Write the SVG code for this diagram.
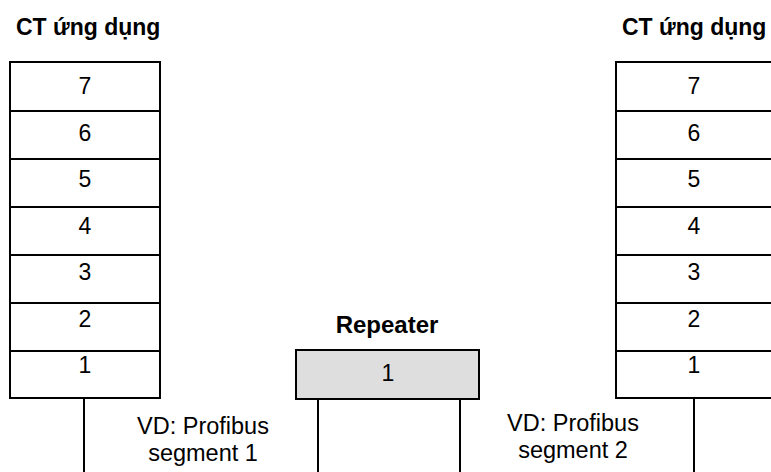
<svg xmlns="http://www.w3.org/2000/svg" width="771" height="472" viewBox="0 0 771 472">
<style>
.box{fill:#ffffff;stroke:#000;stroke-width:2}
.rep{fill:#dedede;stroke:#000;stroke-width:2}
.sep{stroke:#000;stroke-width:2}
.wire{stroke:#000;stroke-width:2;fill:none}
.num{font-family:"Liberation Sans",Arial,sans-serif;font-size:23px;text-anchor:middle;fill:#000}
.title{font-family:"Liberation Sans",Arial,sans-serif;font-size:23px;font-weight:bold;fill:#000}
.rt{font-family:"Liberation Sans",Arial,sans-serif;font-size:24px;font-weight:bold;fill:#000;text-anchor:middle}
.lbl{font-family:"Liberation Sans",Arial,sans-serif;font-size:23.5px;text-anchor:middle;fill:#000}
</style>
<rect width="771" height="472" fill="#ffffff"/>
<g id="stack-left">
<text class="title" x="16" y="35">CT ứng dụng</text>
<rect class="box" x="10" y="62" width="150" height="336"/>
<line class="sep" x1="10" y1="111" x2="160" y2="111"/>
<line class="sep" x1="10" y1="159" x2="160" y2="159"/>
<line class="sep" x1="10" y1="207" x2="160" y2="207"/>
<line class="sep" x1="10" y1="255" x2="160" y2="255"/>
<line class="sep" x1="10" y1="303" x2="160" y2="303"/>
<line class="sep" x1="10" y1="351" x2="160" y2="351"/>
<text class="num" x="85" y="94">7</text>
<text class="num" x="85" y="140.5">6</text>
<text class="num" x="85" y="187">5</text>
<text class="num" x="85" y="233.5">4</text>
<text class="num" x="85" y="280">3</text>
<text class="num" x="85" y="326.5">2</text>
<text class="num" x="85" y="373">1</text>
</g>
<g id="stack-right">
<text class="title" x="622" y="35">CT ứng dụng</text>
<rect class="box" x="616" y="62" width="160" height="336"/>
<line class="sep" x1="616" y1="111" x2="776" y2="111"/>
<line class="sep" x1="616" y1="159" x2="776" y2="159"/>
<line class="sep" x1="616" y1="207" x2="776" y2="207"/>
<line class="sep" x1="616" y1="255" x2="776" y2="255"/>
<line class="sep" x1="616" y1="303" x2="776" y2="303"/>
<line class="sep" x1="616" y1="351" x2="776" y2="351"/>
<text class="num" x="694" y="94">7</text>
<text class="num" x="694" y="140.5">6</text>
<text class="num" x="694" y="187">5</text>
<text class="num" x="694" y="233.5">4</text>
<text class="num" x="694" y="280">3</text>
<text class="num" x="694" y="326.5">2</text>
<text class="num" x="694" y="373">1</text>
</g>
<g id="repeater">
<text class="rt" x="387" y="333">Repeater</text>
<rect class="rep" x="296" y="350" width="183" height="49"/>
<text class="num" x="388" y="381">1</text>
</g>
<g id="connectors">
<line class="wire" x1="84" y1="398" x2="84" y2="472"/>
<line class="wire" x1="318" y1="399" x2="318" y2="472"/>
<line class="wire" x1="460" y1="399" x2="460" y2="472"/>
<line class="wire" x1="694" y1="398" x2="694" y2="472"/>
</g>
<g id="labels">
<text class="lbl" x="203" y="434">VD: Profibus</text>
<text class="lbl" x="203" y="461">segment 1</text>
<text class="lbl" x="573" y="431">VD: Profibus</text>
<text class="lbl" x="573" y="458">segment 2</text>
</g>
</svg>
